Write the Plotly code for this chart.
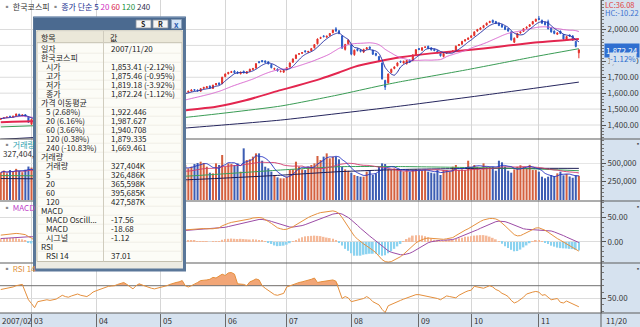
import numpy as np
import pandas as pd
import plotly.graph_objects as go

W, H = 640, 327
PLOT_RIGHT = 601  # px where the value-axis strip begins
FONT = "Noto Sans CJK KR, Noto Sans, DejaVu Sans, sans-serif"

# ---------------- KRX trading calendar ----------------
holidays = ["2007-02-19", "2007-03-01", "2007-05-01", "2007-05-24", "2007-06-06",
            "2007-07-17", "2007-08-15", "2007-09-24", "2007-09-25", "2007-09-26", "2007-10-03"]
dates = pd.bdate_range("2007-02-14", "2007-11-20")
dates = dates[~dates.isin(pd.to_datetime(holidays))]

# ---------------- daily KOSPI data ----------------
open_ = [1436, 1442, 1447, 1455, 1450, 1458, 1468, 1458, 1465, 1450,
         1405, 1430, 1410, 1424, 1428, 1440, 1434, 1432, 1426, 1434,
         1442, 1447, 1452, 1458, 1458, 1450, 1456, 1462, 1450, 1444,
         1450, 1454, 1458, 1470, 1480, 1487, 1495, 1505, 1502, 1513,
         1506, 1514, 1522, 1526, 1532, 1530, 1537, 1541, 1548, 1544,
         1535, 1543, 1548, 1562, 1568, 1574, 1582, 1590, 1594, 1603,
         1598, 1606, 1613, 1623, 1620, 1612, 1630, 1634, 1645, 1630,
         1652, 1664, 1660, 1705, 1722, 1730, 1740, 1733, 1722, 1738,
         1725, 1738, 1748, 1758, 1798, 1805, 1802, 1797, 1780, 1750,
         1752, 1735, 1732, 1748, 1765, 1795, 1818, 1845, 1850, 1866,
         1858, 1866, 1885, 1910, 1944, 1960, 1952, 1962, 1980, 2004,
         1992, 1960, 1875, 1910, 1905, 1842, 1878, 1872, 1858, 1878,
         1890, 1870, 1850, 1830, 1790, 1680, 1665, 1730, 1755, 1772,
         1800, 1790, 1785, 1808, 1805, 1842, 1880, 1870, 1888, 1895,
         1885, 1876, 1866, 1850, 1830, 1850, 1856, 1862, 1868, 1900,
         1908, 1928, 1938, 1950, 1962, 1990, 2000, 2012, 2028, 2044,
         2058, 2050, 2040, 2030, 2018, 2005, 1985, 1920, 1950, 1978,
         1988, 2008, 2020, 2035, 2052, 2070, 2058, 2045, 2050, 2010,
         1990, 1970, 1990, 1968, 1935, 1966, 1960, 1925, 1853.41]
high = [1445, 1449, 1453, 1458, 1458, 1472, 1470, 1466, 1468, 1452,
        1440, 1432, 1424, 1429, 1441, 1442, 1437, 1435, 1435, 1443,
        1449, 1453, 1458, 1461, 1460, 1458, 1463, 1464, 1452, 1453,
        1456, 1459, 1470, 1481, 1488, 1496, 1503, 1508, 1513, 1516,
        1515, 1523, 1528, 1531, 1535, 1538, 1543, 1548, 1550, 1546,
        1543, 1546, 1563, 1569, 1575, 1583, 1591, 1595, 1601, 1606,
        1608, 1615, 1624, 1626, 1622, 1631, 1640, 1644, 1648, 1653,
        1664, 1667, 1703, 1724, 1734, 1740, 1744, 1737, 1736, 1741,
        1739, 1754, 1759, 1789, 1802, 1808, 1806, 1800, 1783, 1760,
        1755, 1742, 1747, 1763, 1793, 1818, 1843, 1852, 1858, 1869,
        1866, 1884, 1908, 1944, 1954, 1963, 1961, 1978, 1999, 2015,
        1996, 1962, 1910, 1938, 1908, 1874, 1882, 1876, 1879, 1889,
        1893, 1873, 1853, 1833, 1792, 1684, 1724, 1754, 1769, 1794,
        1804, 1804, 1809, 1811, 1844, 1877, 1884, 1889, 1894, 1898,
        1888, 1879, 1869, 1852, 1852, 1859, 1864, 1869, 1899, 1909,
        1929, 1939, 1950, 1964, 1989, 2004, 2014, 2029, 2044, 2055,
        2062, 2054, 2044, 2033, 2021, 2008, 1988, 1950, 1979, 1989,
        2009, 2019, 2034, 2054, 2068, 2085, 2062, 2048, 2062, 2013,
        1994, 1983, 1993, 1971, 1960, 1968, 1963, 1928, 1875.46]
low = [1433, 1439, 1444, 1448, 1447, 1455, 1456, 1455, 1450, 1414,
       1400, 1404, 1406, 1420, 1425, 1429, 1427, 1425, 1423, 1431,
       1439, 1444, 1449, 1453, 1449, 1447, 1452, 1445, 1441, 1441,
       1447, 1451, 1455, 1467, 1477, 1484, 1492, 1499, 1499, 1504,
       1503, 1511, 1519, 1523, 1526, 1527, 1534, 1538, 1539, 1534,
       1532, 1538, 1545, 1559, 1565, 1571, 1579, 1587, 1591, 1596,
       1595, 1603, 1610, 1614, 1610, 1609, 1627, 1631, 1628, 1626,
       1649, 1650, 1656, 1700, 1718, 1727, 1724, 1720, 1718, 1724,
       1721, 1734, 1745, 1754, 1788, 1794, 1790, 1780, 1756, 1746,
       1736, 1731, 1728, 1744, 1761, 1791, 1814, 1841, 1846, 1856,
       1853, 1862, 1881, 1906, 1940, 1951, 1948, 1958, 1976, 1985,
       1970, 1878, 1868, 1905, 1838, 1835, 1862, 1856, 1852, 1874,
       1876, 1840, 1832, 1795, 1685, 1620, 1660, 1725, 1750, 1768,
       1790, 1786, 1780, 1790, 1800, 1838, 1870, 1866, 1884, 1876,
       1868, 1863, 1850, 1830, 1825, 1846, 1852, 1858, 1864, 1896,
       1904, 1924, 1934, 1946, 1958, 1986, 1996, 2008, 2024, 2040,
       2040, 2034, 2021, 2011, 1996, 1986, 1930, 1915, 1946, 1974,
       1984, 2004, 2016, 2031, 2048, 2058, 2036, 2026, 2000, 1980,
       1970, 1966, 1971, 1936, 1930, 1953, 1929, 1888, 1819.18]
close = [1440, 1446, 1450, 1452, 1455, 1469, 1460, 1463, 1453, 1417,
         1436, 1407, 1420, 1425, 1438, 1432, 1430, 1428, 1432, 1440,
         1446, 1450, 1455, 1457, 1452, 1455, 1460, 1448, 1445, 1450,
         1452, 1456, 1468, 1478, 1485, 1493, 1500, 1502, 1510, 1508,
         1512, 1520, 1525, 1528, 1530, 1535, 1540, 1545, 1542, 1538,
         1540, 1542, 1560, 1566, 1572, 1580, 1588, 1592, 1598, 1600,
         1605, 1612, 1620, 1618, 1615, 1628, 1636, 1640, 1632, 1650,
         1660, 1655, 1700, 1720, 1730, 1735, 1728, 1725, 1732, 1728,
         1735, 1750, 1755, 1785, 1792, 1798, 1795, 1785, 1760, 1755,
         1740, 1738, 1743, 1760, 1790, 1815, 1840, 1848, 1855, 1860,
         1862, 1880, 1905, 1940, 1950, 1955, 1958, 1975, 1996, 1990,
         1975, 1883, 1905, 1933, 1845, 1870, 1868, 1862, 1875, 1885,
         1880, 1845, 1838, 1800, 1690, 1638, 1720, 1750, 1765, 1790,
         1795, 1800, 1805, 1795, 1840, 1873, 1875, 1885, 1890, 1880,
         1872, 1868, 1855, 1835, 1848, 1855, 1860, 1865, 1895, 1905,
         1925, 1935, 1946, 1960, 1985, 2000, 2010, 2025, 2040, 2050,
         2045, 2038, 2025, 2015, 2000, 1990, 1935, 1945, 1975, 1985,
         2005, 2015, 2030, 2050, 2064, 2063, 2040, 2030, 2005, 1985,
         1975, 1978.31, 1975, 1940, 1956.02, 1957.5, 1933, 1893.47, 1872.24]
volume_k = [372000, 398000, 361000, 405000, 384000, 421000, 395000, 376000, 410000, 452000, 438000,
            352000, 331000, 309000, 298000, 287000, 305000, 292000, 301000, 318000, 326000,
            309000, 334000, 321000, 296000, 304000, 329000, 315000, 284000, 302000, 320000,
            336000, 358000, 372000, 349000, 364000, 388000, 359000, 371000, 350000, 341000,
            367000, 380000, 355000, 345000, 369000, 386000, 375000, 361000, 337000, 352000, 364000,
            405000, 392000, 418000, 401000, 425000, 411000, 436000, 420000,
            473000, 428000, 450000, 486000, 500000, 518000, 500000, 450000, 369000, 360000,
            495000, 473000, 608000, 450000, 495000, 486000, 473000, 495000, 383000, 698000,
            540000, 550000, 586000, 630000, 630000, 531000, 450000, 428000, 383000, 338000,
            306000, 293000, 293000, 315000, 405000, 414000, 518000, 450000, 414000, 405000,
            450000, 473000, 495000, 595000, 540000, 586000, 630000, 563000, 586000, 586000,
            550000, 450000, 414000, 396000, 369000, 338000, 324000, 315000, 315000, 383000,
            405000, 338000, 360000, 450000, 495000, 486000, 414000, 405000, 428000, 405000,
            405000, 383000, 405000, 383000, 405000, 414000, 405000, 396000, 405000, 383000,
            369000, 360000, 405000, 338000, 405000, 405000, 383000, 450000, 473000, 405000,
            414000, 405000, 531000, 450000, 473000, 450000, 405000, 495000, 450000, 450000,
            450000, 396000, 531000, 509000, 450000, 396000, 369000, 414000, 450000, 470000,
            450000, 430000, 475000, 405000, 405000, 383000, 315000, 293000, 315000, 338000,
            324000, 360000, 383000, 333530, 352100, 317900, 300526, 334500, 327404]
macd = [14, 15, 16, 16.5, 17, 17.5, 17, 16.5, 15, 11, 8,
        3, 1, -1, -1.5, -2, -2.5, -3, -3, -2, -1,
        0, 1.5, 2.5, 3, 3.5, 4.5, 4, 3.5, 3.5, 4,
        5, 6.5, 8, 10, 12, 14, 15, 17, 17.5, 18,
        19, 20, 20.5, 21, 21.5, 22, 22.5, 22, 21, 20.5, 20,
        21, 21.5, 22, 23, 24, 24.5, 25, 25.5, 26, 26.5, 27,
        27.5, 27.5, 27.5, 27.5, 27, 26.5, 27, 28, 29, 33,
        36, 38, 40, 41, 42, 44, 45, 46, 47, 49,
        50, 50, 49, 46, 42, 38, 33, 29, 27, 25.5,
        26, 28, 31, 35, 39, 43, 47, 50, 53, 56, 58,
        60, 61, 62, 63, 63.5, 62, 58, 50, 40, 32,
        22, 12, 6, 0, -4, -8, -12, -17, -22, -29, -36,
        -40, -41, -40, -37, -34, -30, -25, -19, -14, -7, -2,
        2, 5, 7, 8, 7.5, 6.5, 5.5, 5, 5.5, 6.5, 7,
        9, 13, 17, 20, 24, 27,
        31, 35, 38.5, 42, 45, 47, 48, 48, 47, 44, 39,
        33, 27, 21, 15, 12.5, 13, 16, 19, 23, 26.5, 28.5,
        29, 27, 24, 20, 15, 11, 7, 3.5, 0, -3.3, -7, -10.5, -14.5, -18.68]
signal = [7, 7.5, 8, 8.5, 9, 10, 10.5, 11, 11.5, 11.5, 11,
          10, 8.5, 7, 5.5, 4, 3, 2, 1, 0.5, 0,
          0, 0, 0.5, 1, 1.5, 2, 2.5, 3, 3, 3.5,
          3.5, 4, 4.5, 5.5, 7, 8, 9.5, 11, 12, 13.5,
          14.5, 15.5, 16.5, 17.5, 18, 19, 19.5, 20, 20.5, 20.5, 20.5,
          20.5, 20.5, 21, 21, 21.5, 22, 22.5, 23, 23.5, 24, 24.5,
          25, 25.5, 26, 26.5, 26.5, 26.5, 26.5, 27, 27.5, 28.5,
          30, 31.5, 33, 34.5, 36, 37.5, 39, 40.5, 42, 43.5,
          45, 46, 46, 45.5, 44, 42, 40, 37.5, 35, 33,
          31.5, 30.5, 30.5, 31, 32, 33.5, 35.5, 38, 40.5, 43, 45.5,
          48, 50.5, 53, 55, 57, 58, 58.5, 57, 54, 50,
          45, 40, 34, 28, 22, 17, 12, 7, 2, -3, -8,
          -13, -18, -21, -23, -25, -26, -26, -25, -23, -20, -16,
          -12, -8, -4.5, -1.5, 0.5, 2, 3, 3.5, 3.5, 3.5, 4,
          5, 7, 9.5, 11.5, 13.5, 16,
          19, 22, 25, 28, 31, 34, 37, 39.5, 41.5, 42.5, 42.5,
          41.5, 39.5, 37, 34, 31, 28.5, 27, 26, 25.5, 25.5, 25.5,
          25.5, 25, 24.5, 24, 22.5, 20.5, 18.5, 16, 13, 10, 7, 4, 1.5, -1.12]
rsi = [64, 65, 66, 66.5, 68, 70, 71, 72, 60, 48, 42,
       35.6, 45, 46, 47, 48, 47, 48, 49, 52, 55,
       53, 52, 54, 56, 57, 55, 54, 53, 56, 60,
       62, 64, 66, 68, 69, 69.5, 70, 72, 74, 75,
       72, 68, 65, 70, 73, 71, 69, 68, 66, 65, 66,
       67, 69, 70, 72, 74, 75, 76, 78, 70, 68, 70,
       72, 75, 78, 78, 79, 80, 83, 82, 85, 88,
       86, 90, 90.6, 88, 73, 73, 72, 70, 76, 78,
       80.6, 79, 70, 66, 63, 60, 56, 55, 57, 58,
       68, 70, 71, 73, 75, 76, 77, 78, 80, 82, 75,
       76, 77, 78, 78.5, 79, 77, 65, 50, 53, 51,
       45, 46, 47, 48, 50, 53, 50, 45, 43, 40, 33,
       28, 38.6, 41, 43, 45, 47, 49, 51, 53, 55, 56,
       56, 55, 55, 54, 53, 51, 50, 48, 51, 54, 53,
       52, 51, 55, 58, 60, 62,
       63, 69, 68, 67, 66, 68, 70, 68, 64, 62, 58,
       56, 53, 47, 43, 45, 48, 52, 57, 59, 60, 61,
       60, 55, 56, 52, 48, 49, 50, 44, 43, 46, 44, 41, 39, 37.01]

# longer moving averages (need history before the window), read at sample days
ma60_idx = [0, 20, 40, 60, 70, 80, 91, 96, 104, 110, 115, 123, 130, 140, 152, 162, 173, 188]
ma60_val = [1418, 1428, 1450, 1493, 1515, 1557, 1619, 1645, 1690, 1730, 1765, 1800, 1825,
            1850, 1871, 1892, 1917, 1940.708]
ma120_idx = [0, 30, 60, 91, 110, 123, 130, 151, 173, 188]
ma120_val = [1388, 1410, 1448, 1519, 1590, 1645, 1672, 1745, 1827, 1879.335]
ma240_idx = [0, 30, 58, 91, 130, 160, 188]
ma240_val = [1310, 1342, 1378, 1431, 1519, 1595, 1669.461]
vma60_idx = [0, 30, 58, 91, 110, 130, 150, 170, 188]
vma60_val = [330000, 322000, 318000, 405000, 450000, 452000, 440000, 425000, 395685]
vma120_idx = [0, 30, 58, 91, 110, 130, 150, 170, 188]
vma120_val = [290000, 280000, 270000, 335000, 383000, 412000, 425000, 428000, 427587]

price_ticks = [1400, 1500, 1600, 1700, 1800, 2000]   # 1,900 sits under the last-price box
price_grid = [1400, 1500, 1600, 1700, 1800, 1900, 2000]
side_stats = ["LC:36.08", "HC:-10.22"]

n = len(dates)
for arr in (open_, high, low, close, volume_k, macd, signal, rsi):
    assert len(arr) == n, len(arr)

x = np.arange(n)
close_s = pd.Series(close, dtype=float)
ma5 = close_s.rolling(5, min_periods=1).mean()
ma20 = close_s.rolling(20, min_periods=1).mean()
vol_s = pd.Series(volume_k, dtype=float)
vma5 = vol_s.rolling(5, min_periods=1).mean()
vma20 = vol_s.rolling(20, min_periods=1).mean()
osc = np.array(macd) - np.array(signal)
month_start = [i for i in range(1, n) if dates[i].month != dates[i - 1].month]
month_text = [f"{dates[i].month:02d}" for i in month_start]

# ---------------- colours ----------------
UP, DOWN = "#e3302a", "#2b5cc6"
VUP, VDOWN = "#d4603f", "#3d5db3"
AX_BG = "#d6e2ef"
DIV = "#5c5c5c"
GRID = "#dcdcdc"

fig = go.Figure()

# price panel
fig.add_trace(go.Candlestick(
    x=x, open=open_, high=high, low=low, close=close, whiskerwidth=0,
    increasing=dict(line=dict(color=UP, width=1), fillcolor=UP),
    decreasing=dict(line=dict(color=DOWN, width=1), fillcolor=DOWN),
    xaxis="x", yaxis="y", hoverinfo="skip"))
for xs, ys, col, w in [(ma240_idx, ma240_val, "#26265e", 1),
                       (ma120_idx, ma120_val, "#3a9c55", 1),
                       (ma60_idx, ma60_val, "#e3264f", 2),
                       (x, ma20, "#d965cf", 1),
                       (x, ma5, "#2a33a6", 1)]:
    fig.add_trace(go.Scatter(x=xs, y=ys, mode="lines", line=dict(color=col, width=w, shape="spline", smoothing=0.5),
                             xaxis="x", yaxis="y", hoverinfo="skip"))

# volume panel
vcol = [VUP if c >= o else VDOWN for o, c in zip(open_, close)]
fig.add_trace(go.Bar(x=x, y=volume_k, width=0.66, marker=dict(color=vcol, line=dict(width=0)),
                     xaxis="x2", yaxis="y2", hoverinfo="skip"))
for xs, ys, col in [(vma120_idx, vma120_val, "#1d1d55"), (vma60_idx, vma60_val, "#3aa05a"),
                    (x, vma20, "#d23a6e"), (x, vma5, "#2634c4")]:
    fig.add_trace(go.Scatter(x=xs, y=ys, mode="lines", line=dict(color=col, width=1, shape="spline", smoothing=0.5),
                             xaxis="x2", yaxis="y2", hoverinfo="skip"))

# MACD panel
hcol = ["#f5b999" if v >= 0 else "#8cd3f0" for v in osc]
fig.add_trace(go.Bar(x=x, y=osc, width=0.55, marker=dict(color=hcol, line=dict(width=0)),
                     xaxis="x3", yaxis="y3", hoverinfo="skip"))
fig.add_trace(go.Scatter(x=x, y=signal, mode="lines", line=dict(color="#9c4ca6", width=1),
                         xaxis="x3", yaxis="y3", hoverinfo="skip"))
fig.add_trace(go.Scatter(x=x, y=macd, mode="lines", line=dict(color="#e6913f", width=1),
                         xaxis="x3", yaxis="y3", hoverinfo="skip"))

# RSI panel: 70 reference line, overbought fill, RSI line
fig.add_trace(go.Scatter(x=[-1, 197], y=[70, 70], mode="lines", line=dict(color="#707070", width=1),
                         xaxis="x4", yaxis="y4", hoverinfo="skip"))
fig.add_trace(go.Scatter(x=x, y=np.maximum(np.array(rsi), 70), mode="lines", line=dict(width=0),
                         fill="tonexty", fillcolor="#f2a677", xaxis="x4", yaxis="y4", hoverinfo="skip"))
fig.add_trace(go.Scatter(x=x, y=rsi, mode="lines", line=dict(color="#e58f3c", width=1),
                         xaxis="x4", yaxis="y4", hoverinfo="skip"))


def vdom(top_px, bottom_px):
    return [1 - bottom_px / H, 1 - top_px / H]


XDOM = [0, PLOT_RIGHT / W]
XRANGE = [-0.25, 195.2]
xcommon = dict(domain=XDOM, range=XRANGE, tickmode="array", tickvals=month_start, showticklabels=False,
               showgrid=True, gridcolor="#d6d6d6", gridwidth=1, zeroline=False, fixedrange=True)
tickfont = dict(family=FONT, size=8, color="#3a3a3a")


def yaxis(dom, rng, tv, fmt, minor_dtick, suffix="", grid=GRID, showgrid=True):
    return dict(domain=dom, range=rng, side="right", tickmode="array", tickvals=tv, tickformat=fmt,
                ticksuffix=suffix, ticks="outside", ticklen=4, tickcolor="#555", showline=True,
                linecolor=DIV, linewidth=1, showgrid=showgrid, gridcolor=grid, zeroline=False,
                tickfont=tickfont, fixedrange=True,
                minor=dict(ticks="outside", ticklen=2, tickcolor="#777", dtick=minor_dtick, showgrid=False))


fig.update_layout(
    width=W, height=H, autosize=False, margin=dict(l=0, r=0, t=0, b=0),
    paper_bgcolor="white", plot_bgcolor="white", showlegend=False,
    boxgap=0.5, boxgroupgap=0.3, hovermode=False,
    xaxis=dict(**xcommon, anchor="y", rangeslider=dict(visible=False)),
    xaxis2=dict(**xcommon, anchor="y2", matches="x"),
    xaxis3=dict(**xcommon, anchor="y3", matches="x"),
    xaxis4=dict(**xcommon, anchor="y4", matches="x", ticks="outside", ticklen=14, tickcolor="#6a6a6a"),
    yaxis=yaxis(vdom(0, 139), [1312.1, 2185.3], price_ticks, ",.2f", 20, showgrid=False),
    yaxis2=yaxis(vdom(139, 201), [-13514, 824324], [250000, 500000], ",d", 50000, "K", "#e6e6e6"),
    yaxis3=yaxis(vdom(201, 263), [-42.9, 83.7], [0, 50], ".2f", 10),
    yaxis4=yaxis(vdom(263, 313), [27.3, 105.5], [50], ".2f", 10),
)
for k in ("yaxis", "yaxis2", "yaxis3", "yaxis4"):
    fig.layout[k].anchor = "x" + ("" if k == "yaxis" else k[-1])

shapes, notes = [], []

# horizontal price grid (drawn under the candles)
for lvl in price_grid:
    shapes.append(dict(type="line", xref="x", yref="y", x0=XRANGE[0], x1=XRANGE[1], y0=lvl, y1=lvl,
                       line=dict(color=GRID, width=1), layer="below"))


def rect(x0, y0, x1, y1, fill, line=None, lw=0, layer="above"):
    shapes.append(dict(type="rect", xref="paper", yref="paper", x0=x0 / W, x1=x1 / W,
                       y0=1 - y1 / H, y1=1 - y0 / H, fillcolor=fill, layer=layer,
                       line=dict(color=line or fill, width=lw)))


def hline(x0, x1, y, color, lw=1):
    shapes.append(dict(type="line", xref="paper", yref="paper", x0=x0 / W, x1=x1 / W,
                       y0=1 - y / H, y1=1 - y / H, line=dict(color=color, width=lw), layer="above"))


def vline(xp, y0, y1, color, lw=1):
    shapes.append(dict(type="line", xref="paper", yref="paper", x0=xp / W, x1=xp / W,
                       y0=1 - y1 / H, y1=1 - y0 / H, line=dict(color=color, width=lw), layer="above"))


def text(px, py, s, color="#1e1e1e", size=8, xanchor="left", **kw):
    kw.setdefault("borderpad", 0)
    notes.append(dict(xref="paper", yref="paper", x=px / W, y=1 - py / H, text=s, showarrow=False,
                      xanchor=xanchor, yanchor="middle",
                      font=dict(family=FONT, size=size, color=color), **kw))


# value-axis strip and date strip
rect(PLOT_RIGHT, 0, W, H, AX_BG, layer="below")
rect(0, 313, W, H, AX_BG, layer="below")
for yp in (139, 201, 263, 313):
    hline(0, W, yp, DIV, 1.2)
vline(PLOT_RIGHT, 0, H, DIV, 1)

# ---------------- data window (popup) ----------------
rect(33, 16.5, 186, 271.5, "#5a7799")
rect(34, 17, 185, 30, "#4b6a90")
hline(34, 185, 17.2, "#7f99b8", 1)
rect(36, 30, 183, 268.5, "#ecebe3")
rect(37, 31, 182, 261.5, "#fcfcf7", "#c4c0b0", 1)
rect(37.5, 31.5, 181.5, 42.5, "#ebe8d9")
hline(37, 182, 42.7, "#c4c0b0", 1)
ROW0, PITCH = 48.7, 9.0
for k in range(1, 24):
    hline(37.5, 181.5, ROW0 - PITCH / 2 + PITCH * k, "#f0eee6", 1)
vline(103.5, 31, 261.5, "#d0ccbe", 1)
rect(136, 20, 151, 28, "#f6f6f6", "#8a929c", 0.8)
rect(153, 20, 168, 28, "#f6f6f6", "#8a929c", 0.8)
rect(171.5, 19.5, 181.5, 28.5, "#d4e4f6", "#8aa0b8", 0.8)
text(143.5, 24, "<b>S</b>", "#222", 7, "center")
text(160.5, 24, "<b>R</b>", "#222", 7, "center")
text(176.5, 24, "<b>x</b>", "#2a5db0", 8, "center")
text(40, 37, "항목")
text(108.5, 37, "값")

last_c, prev_c = close[-1], close[-2]


def with_change(v):
    return f"{v:,.2f} ({(v / prev_c - 1) * 100:.2f}%)"


mas = [("5", ma5.iloc[-1]), ("20", ma20.iloc[-1]), ("60", ma60_val[-1]),
       ("120", ma120_val[-1]), ("240", ma240_val[-1])]
vmas = [("5", vma5.iloc[-1]), ("20", vma20.iloc[-1]), ("60", vma60_val[-1]), ("120", vma120_val[-1])]
rows = [("일자", dates[-1].strftime("%Y/%m/%d"), 0), ("한국코스피", "", 0),
        ("시가", with_change(open_[-1]), 1), ("고가", with_change(high[-1]), 1),
        ("저가", with_change(low[-1]), 1), ("종가", with_change(last_c), 1),
        ("가격 이동평균", "", 0)]
rows += [(f"{p} ({(v - last_c) / last_c * 100:.2f}%)", f"{v:,.3f}", 1) for p, v in mas]
rows += [("거래량", "", 0), ("거래량", f"{volume_k[-1]:,}K", 1)]
rows += [(p, f"{v:,.0f}K", 1) for p, v in vmas]
rows += [("MACD", "", 0), ("MACD Oscill...", f"{osc[-1]:.2f}", 1), ("MACD", f"{macd[-1]:.2f}", 1),
         ("시그널", f"{signal[-1]:.2f}", 1), ("RSI", "", 0), ("RSI 14", f"{rsi[-1]:.2f}", 1)]
for k, (lab, val, indent) in enumerate(rows):
    yc = ROW0 + PITCH * k
    text(44.5 if indent else 39.5, yc, lab)
    if val:
        text(109.5, yc, val)

# ---------------- panel captions ----------------
SQ = "<span style='color:#8a8a8a'>▪</span>"
text(1.5, 6, f"{SQ} <span style='color:#333'>한국코스피</span> {SQ} "
             "<span style='color:#22308f'>종가 단순 5</span> <span style='color:#d030c0'>20</span> "
             "<span style='color:#d81848'>60</span> <span style='color:#1a9040'>120</span> "
             "<span style='color:#303050'>240</span>")
text(1.5, 145, f"{SQ} <span style='color:#2a9fb0'>거래량</span>")
text(1.5, 153.5, f"{volume_k[-1]:,},", "#333")
text(1.5, 207, f"{SQ} <span style='color:#c040c8'>MACD</span>")
text(1.5, 268.5, f"{SQ} <span style='color:#e0903a'>RSI 14</span>")

# right strip annotations
text(603.5, 4.2, side_stats[0], "#e04040", 7.5)
text(603.5, 12.8, side_stats[1], "#3a70d0", 7.5)
text(604, 50, f"{last_c:,.2f}", "white", bgcolor="#2f6fd0", borderpad=1)
text(609, 58.5, f"{(last_c / prev_c - 1) * 100:.2f}%", "#2f6fd0", bgcolor=AX_BG)
for yp in (143, 206, 268):
    text(637.5, yp, "▪", "#555", 6, "center")

# date strip labels
text(1, 320.5, f"{dates[0].year}/{dates[0].month:02d}", "#333")
for i, t in zip(month_start, month_text):
    notes.append(dict(xref="x4", yref="paper", x=i, y=1 - 320.5 / H, text=t, showarrow=False,
                      xanchor="left", yanchor="middle", xshift=1.5, borderpad=0,
                      font=dict(family=FONT, size=8, color="#333")))
text(605, 320.5, f"{dates[-1].month}/{dates[-1].day}", "#333")

fig.update_layout(shapes=shapes, annotations=notes)
fig.write_html("out.html")
